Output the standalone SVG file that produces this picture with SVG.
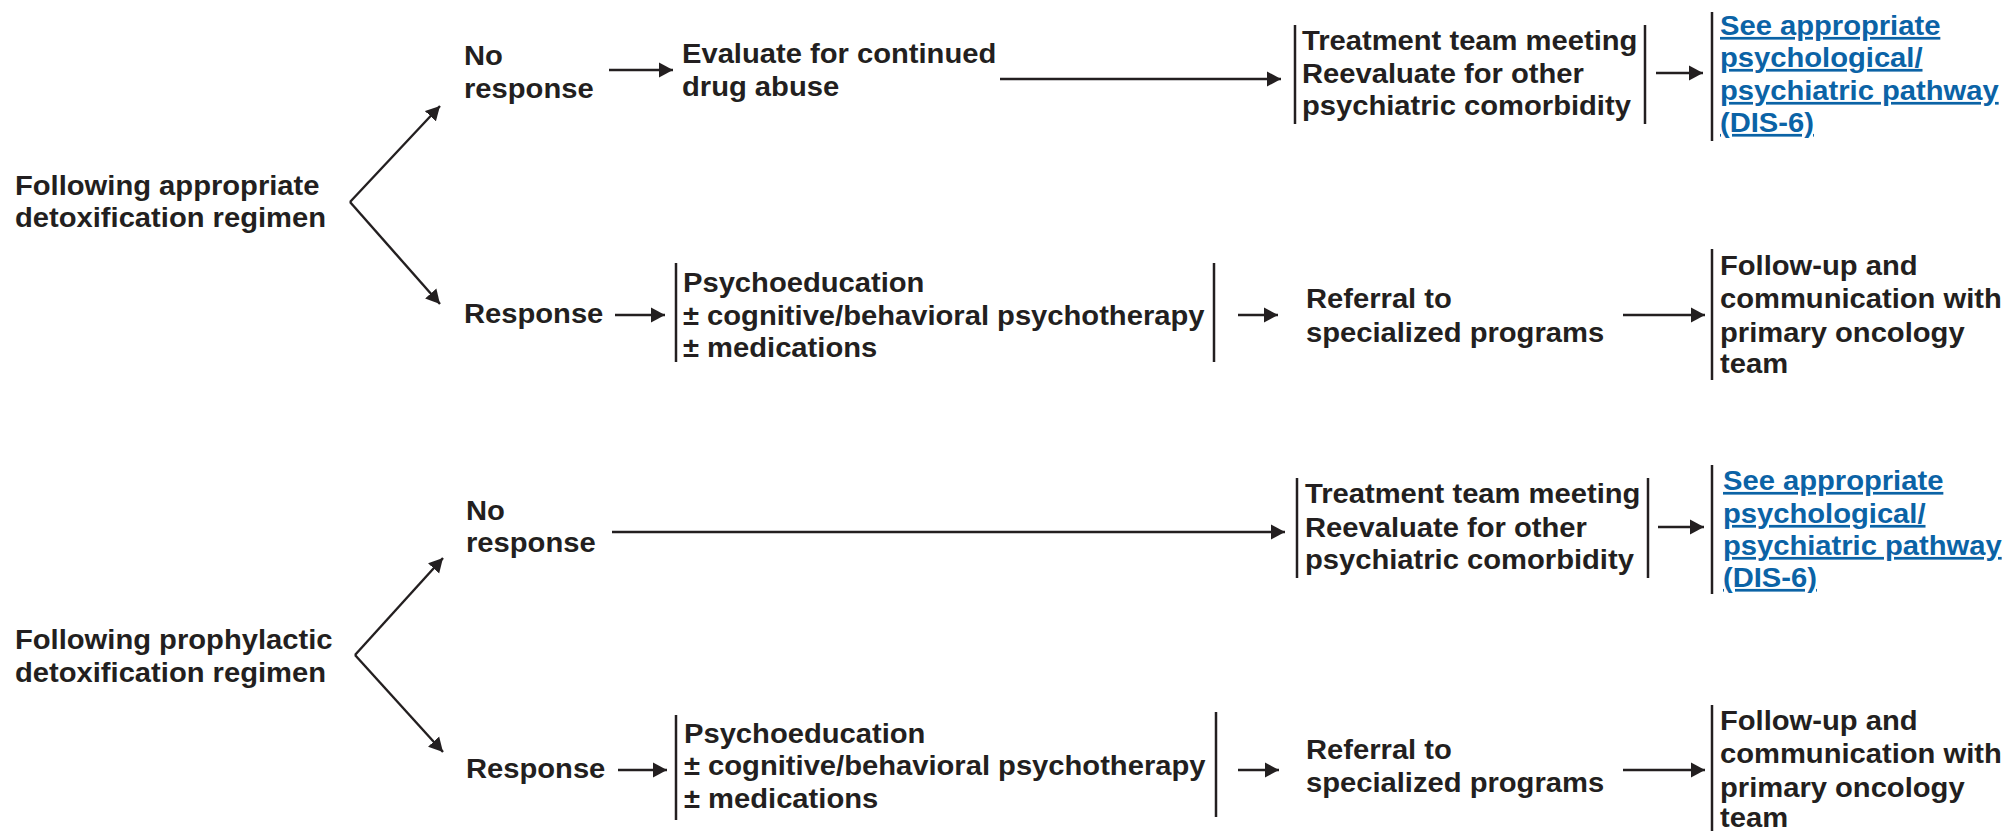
<svg xmlns="http://www.w3.org/2000/svg" width="2009" height="831" viewBox="0 0 2009 831">
<defs>
<marker id="ah" markerUnits="userSpaceOnUse" markerWidth="16" markerHeight="16" refX="14" refY="8" orient="auto" viewBox="0 0 16 16">
<path d="M0,0.5 L14,8 L0,15.5 z" fill="#231f20"/>
</marker>
<style>
.t{font-family:"Liberation Sans",Arial,sans-serif;font-weight:bold;font-size:27px;fill:#231f20}
.l{font-family:"Liberation Sans",Arial,sans-serif;font-weight:bold;font-size:27px;fill:#0b63a6;text-decoration:underline}
.c{stroke:#231f20;stroke-width:2.4;fill:none;marker-end:url(#ah)}
.b{stroke:#231f20;stroke-width:2.5}
</style>
</defs>
<rect width="2009" height="831" fill="#ffffff"/>

<g id="connectors">
<path class="c" d="M350,202 L440,106"/>
<path class="c" d="M350,202 L440,304"/>
<path class="c" d="M609,70 L673,70"/>
<path class="c" d="M1000,79 L1281,79"/>
<path class="c" d="M1656,73 L1703,73"/>
<path class="c" d="M615,315 L665,315"/>
<path class="c" d="M1238,315 L1278,315"/>
<path class="c" d="M1623,315 L1705,315"/>
<path class="c" d="M355,655 L443,558"/>
<path class="c" d="M355,655 L443,752"/>
<path class="c" d="M612,532 L1285,532"/>
<path class="c" d="M1658,527 L1704,527"/>
<path class="c" d="M618,770 L667,770"/>
<path class="c" d="M1238,770 L1279,770"/>
<path class="c" d="M1623,770 L1705,770"/>
</g>

<g id="start1">
<text class="t" transform="translate(15 0) scale(1.08 1)"><tspan x="0" y="195">Following appropriate</tspan><tspan x="0" y="227">detoxification regimen</tspan></text>
</g>
<g id="noresp1">
<text class="t" transform="translate(464 0) scale(1.08 1)"><tspan x="0" y="65">No</tspan><tspan x="0" y="98">response</tspan></text>
</g>
<g id="evaluate1">
<text class="t" transform="translate(682 0) scale(1.08 1)"><tspan x="0" y="63">Evaluate for continued</tspan><tspan x="0" y="96">drug abuse</tspan></text>
</g>
<g id="treatment1">
<line class="b" x1="1295" y1="25" x2="1295" y2="124"/>
<line class="b" x1="1645" y1="25" x2="1645" y2="124"/>
<text class="t" transform="translate(1302 0) scale(1.08 1)"><tspan x="0" y="50">Treatment team meeting</tspan><tspan x="0" y="83">Reevaluate for other</tspan><tspan x="0" y="115">psychiatric comorbidity</tspan></text>
</g>
<g id="dis1">
<line class="b" x1="1712" y1="12" x2="1712" y2="141"/>
<text class="l" transform="translate(1720 0) scale(1.08 1)"><tspan x="0" y="35">See appropriate</tspan><tspan x="0" y="67">psychological/</tspan><tspan x="0" y="100">psychiatric pathway</tspan><tspan x="0" y="132">(DIS-6)</tspan></text>
</g>
<g id="resp1">
<text class="t" transform="translate(464 0) scale(1.08 1)"><tspan x="0" y="323">Response</tspan></text>
</g>
<g id="psycho1">
<line class="b" x1="676" y1="263" x2="676" y2="362"/>
<line class="b" x1="1214" y1="263" x2="1214" y2="362"/>
<text class="t" transform="translate(683 0) scale(1.08 1)"><tspan x="0" y="292">Psychoeducation</tspan><tspan x="0" y="325">± cognitive/behavioral psychotherapy</tspan><tspan x="0" y="357">± medications</tspan></text>
</g>
<g id="referral1">
<text class="t" transform="translate(1306 0) scale(1.08 1)"><tspan x="0" y="308">Referral to</tspan><tspan x="0" y="342">specialized programs</tspan></text>
</g>
<g id="follow1">
<line class="b" x1="1712" y1="249" x2="1712" y2="380"/>
<text class="t" transform="translate(1720 0) scale(1.08 1)"><tspan x="0" y="275">Follow-up and</tspan><tspan x="0" y="308">communication with</tspan><tspan x="0" y="342">primary oncology</tspan><tspan x="0" y="373">team</tspan></text>
</g>

<g id="start2">
<text class="t" transform="translate(15 0) scale(1.08 1)"><tspan x="0" y="649">Following prophylactic</tspan><tspan x="0" y="682">detoxification regimen</tspan></text>
</g>
<g id="noresp2">
<text class="t" transform="translate(466 0) scale(1.08 1)"><tspan x="0" y="520">No</tspan><tspan x="0" y="552">response</tspan></text>
</g>
<g id="treatment2">
<line class="b" x1="1297" y1="478" x2="1297" y2="578"/>
<line class="b" x1="1648" y1="478" x2="1648" y2="578"/>
<text class="t" transform="translate(1305 0) scale(1.08 1)"><tspan x="0" y="503">Treatment team meeting</tspan><tspan x="0" y="537">Reevaluate for other</tspan><tspan x="0" y="569">psychiatric comorbidity</tspan></text>
</g>
<g id="dis2">
<line class="b" x1="1712" y1="465" x2="1712" y2="594"/>
<text class="l" transform="translate(1723 0) scale(1.08 1)"><tspan x="0" y="490">See appropriate</tspan><tspan x="0" y="523">psychological/</tspan><tspan x="0" y="555">psychiatric pathway</tspan><tspan x="0" y="587">(DIS-6)</tspan></text>
</g>
<g id="resp2">
<text class="t" transform="translate(466 0) scale(1.08 1)"><tspan x="0" y="778">Response</tspan></text>
</g>
<g id="psycho2">
<line class="b" x1="676" y1="715" x2="676" y2="820"/>
<line class="b" x1="1216" y1="712" x2="1216" y2="817"/>
<text class="t" transform="translate(684 0) scale(1.08 1)"><tspan x="0" y="743">Psychoeducation</tspan><tspan x="0" y="775">± cognitive/behavioral psychotherapy</tspan><tspan x="0" y="808">± medications</tspan></text>
</g>
<g id="referral2">
<text class="t" transform="translate(1306 0) scale(1.08 1)"><tspan x="0" y="759">Referral to</tspan><tspan x="0" y="792">specialized programs</tspan></text>
</g>
<g id="follow2">
<line class="b" x1="1712" y1="705" x2="1712" y2="831"/>
<text class="t" transform="translate(1720 0) scale(1.08 1)"><tspan x="0" y="730">Follow-up and</tspan><tspan x="0" y="763">communication with</tspan><tspan x="0" y="797">primary oncology</tspan><tspan x="0" y="827">team</tspan></text>
</g>
</svg>
